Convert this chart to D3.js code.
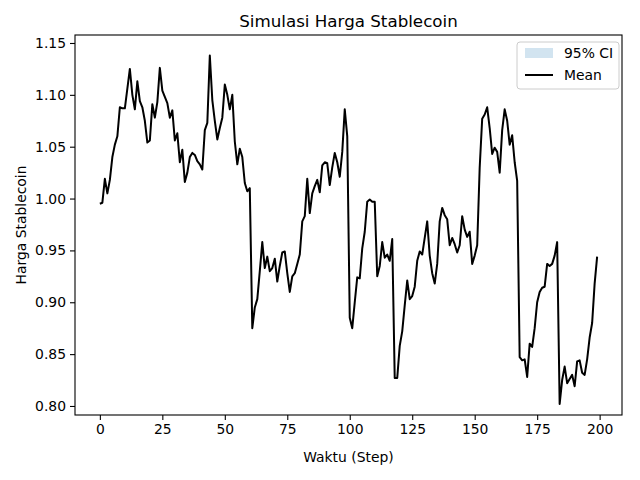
<!DOCTYPE html>
<html>
<head>
<script src="https://cdn.jsdelivr.net/npm/d3@7"></script>
<style>
body { margin: 0; background: #fff; }
text { font-family: "DejaVu Sans", sans-serif; }
</style>
</head>
<body>
<svg id="chart" width="640" height="480"></svg>
<script>
// mean price per step
var meanValues = [
  0.995,0.996,1.019,1.005,1.018,1.040,1.052,1.060,1.088,1.087,
  1.087,1.106,1.125,1.100,1.086,1.113,1.094,1.088,1.075,1.054,
  1.056,1.091,1.078,1.093,1.126,1.104,1.098,1.092,1.078,1.085,
  1.056,1.063,1.035,1.047,1.016,1.025,1.040,1.044,1.042,1.036,
  1.033,1.028,1.066,1.073,1.138,1.095,1.075,1.057,1.068,1.078,
  1.110,1.100,1.086,1.100,1.055,1.033,1.048,1.040,1.015,1.007,
  1.010,0.875,0.895,0.903,0.930,0.958,0.933,0.944,0.930,0.933,
  0.942,0.920,0.935,0.948,0.949,0.928,0.910,0.925,0.928,0.937,
  0.946,0.978,0.983,1.019,0.986,1.005,1.012,1.018,1.006,1.032,
  1.035,1.034,1.013,1.030,1.044,1.035,1.021,1.045,1.086,1.060,
  0.885,0.875,0.900,0.924,0.923,0.952,0.968,0.997,0.999,0.997,
  0.997,0.925,0.935,0.958,0.943,0.946,0.940,0.961,0.827,0.827,
  0.858,0.872,0.897,0.921,0.903,0.906,0.915,0.940,0.949,0.946,
  0.962,0.978,0.945,0.928,0.918,0.937,0.978,0.991,0.984,0.980,
  0.955,0.962,0.956,0.948,0.955,0.983,0.970,0.963,0.968,0.937,
  0.945,0.955,1.030,1.077,1.081,1.088,1.068,1.043,1.049,1.045,
  1.025,1.066,1.086,1.075,1.052,1.061,1.035,1.017,0.847,0.844,
  0.845,0.828,0.860,0.857,0.875,0.900,0.910,0.914,0.915,0.937,
  0.935,0.937,0.945,0.958,0.802,0.825,0.838,0.822,0.826,0.830,
  0.819,0.843,0.844,0.832,0.830,0.845,0.866,0.880,0.918,0.944
];
// CI collapses onto the mean in the reference (single run)
var lowerValues = meanValues.slice();
var upperValues = meanValues.slice();
var xTicks = [0, 25, 50, 75, 100, 125, 150, 175, 200];
var yTicks = [0.80, 0.85, 0.90, 0.95, 1.00, 1.05, 1.10, 1.15];

var svg = d3.select("#chart");
var L = 75, R = 622, T = 35, B = 415;

var x = d3.scaleLinear().domain([-9.95, 208.95]).range([L, R]);
var y = d3.scaleLinear().domain([0.7913, 1.1577]).range([B, T]);

var steps = d3.range(meanValues.length);

svg.append("path")
  .datum(steps)
  .attr("fill", "#1f77b4").attr("fill-opacity", 0.2)
  .attr("d", d3.area().x(function(i){return x(i);})
    .y0(function(i){return y(lowerValues[i]);})
    .y1(function(i){return y(upperValues[i]);}));

svg.append("path")
  .datum(steps)
  .attr("fill", "none").attr("stroke", "black").attr("stroke-width", 2)
  .attr("stroke-linejoin", "round")
  .attr("d", d3.line().x(function(i){return x(i);}).y(function(i){return y(meanValues[i]);}));

var xAxis = svg.append("g").attr("transform", "translate(0," + B + ")")
  .call(d3.axisBottom(x).tickValues(xTicks).tickSize(5).tickPadding(4).tickFormat(d3.format("d")));
var yAxis = svg.append("g").attr("transform", "translate(" + L + ",0)")
  .call(d3.axisLeft(y).tickValues(yTicks).tickSize(5).tickPadding(4).tickFormat(d3.format(".2f")));
[xAxis, yAxis].forEach(function(a){
  a.select(".domain").remove();
  a.selectAll("text").attr("font-size", 13.9).attr("fill", "black").style("font-family", "DejaVu Sans");
  a.selectAll("line").attr("stroke", "black").attr("stroke-width", 1.1);
});

svg.append("rect").attr("x", L).attr("y", T).attr("width", R - L).attr("height", B - T)
  .attr("fill", "none").attr("stroke", "black").attr("stroke-width", 1.1);

svg.append("text").attr("x", (L + R) / 2).attr("y", 27).attr("text-anchor", "middle")
  .attr("font-size", 16.7).text("Simulasi Harga Stablecoin");
svg.append("text").attr("x", (L + R) / 2).attr("y", 462).attr("text-anchor", "middle")
  .attr("font-size", 13.9).text("Waktu (Step)");
svg.append("text").attr("transform", "translate(26," + (T + B) / 2 + ") rotate(-90)")
  .attr("text-anchor", "middle").attr("font-size", 13.9).text("Harga Stablecoin");

// legend
var lg = svg.append("g").attr("transform", "translate(517,42)");
lg.append("rect").attr("width", 102).attr("height", 47).attr("rx", 3)
  .attr("fill", "white").attr("fill-opacity", 0.8).attr("stroke", "#ccc");
lg.append("rect").attr("x", 8).attr("y", 6).attr("width", 28).attr("height", 10)
  .attr("fill", "#1f77b4").attr("fill-opacity", 0.2);
lg.append("text").attr("x", 47).attr("y", 16).attr("font-size", 13.9).text("95% CI");
lg.append("line").attr("x1", 8).attr("x2", 36).attr("y1", 33).attr("y2", 33)
  .attr("stroke", "black").attr("stroke-width", 2);
lg.append("text").attr("x", 47).attr("y", 38).attr("font-size", 13.9).text("Mean");
</script>
</body>
</html>
